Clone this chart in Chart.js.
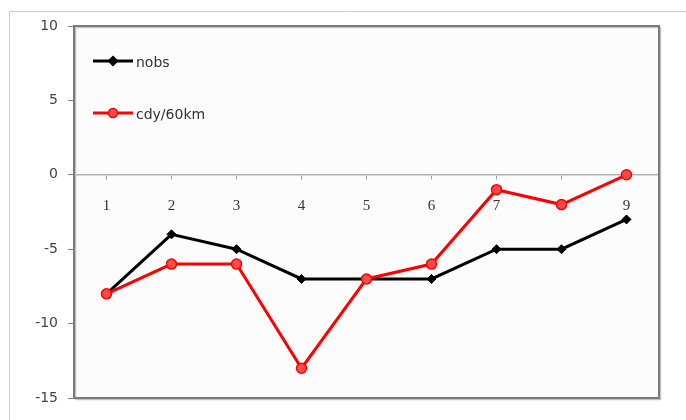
<!DOCTYPE html>
<html>
<head>
<meta charset="utf-8">
<script src="https://cdn.jsdelivr.net/npm/chart.js@4/dist/chart.umd.min.js"></script>
<style>
  html, body { margin: 0; padding: 0; background: #ffffff; }
  #wrap { position: relative; width: 686px; height: 420px; }
</style>
</head>
<body>
<div id="wrap"><canvas id="c" width="686" height="420"></canvas></div>
<script>
const categories = ['1', '2', '3', '4', '5', '6', '7', '8', '9'];
const nobs = [-8, -4, -5, -7, -7, -7, -5, -5, -3];
const cdy60km = [-8, -6, -6, -13, -7, -6, -1, -2, 0];
const seriesNames = ['nobs', 'cdy/60km'];
const yMin = -15;
const yMax = 10;
const yStep = 5;

const framePlugin = {
  id: 'frame',
  beforeDraw(chart) {
    const ctx = chart.ctx;
    ctx.save();
    ctx.fillStyle = '#ffffff';
    ctx.fillRect(0, 0, chart.width, chart.height);
    // outer border (cropped at right and bottom)
    ctx.strokeStyle = '#cfcfcf';
    ctx.lineWidth = 1;
    ctx.beginPath();
    ctx.moveTo(9.5, chart.height);
    ctx.lineTo(9.5, 11.5);
    ctx.lineTo(chart.width, 11.5);
    ctx.stroke();
    // plot area background
    const a = chart.chartArea;
    ctx.fillStyle = '#fcfcfc';
    ctx.fillRect(a.left, a.top, a.right - a.left, a.bottom - a.top);
    ctx.restore();
  },
  afterDraw(chart) {
    const ctx = chart.ctx;
    const a = chart.chartArea;
    ctx.save();
    // shadow
    ctx.strokeStyle = '#c4c4c4';
    ctx.lineWidth = 1.5;
    ctx.strokeRect(a.left + 1.5, a.top + 1.5, a.right - a.left, a.bottom - a.top);
    ctx.strokeStyle = '#7a7a7a';
    ctx.lineWidth = 2;
    ctx.strokeRect(a.left, a.top, a.right - a.left, a.bottom - a.top);
    // legend
    const items = chart.data.datasets;
    const ys = [a.top + 35, a.top + 87];
    items.forEach((ds, i) => {
      const y = ys[i];
      const x0 = a.left + 19, x1 = a.left + 59;
      ctx.strokeStyle = ds.borderColor;
      ctx.lineWidth = 3;
      ctx.beginPath();
      ctx.moveTo(x0, y);
      ctx.lineTo(x1, y);
      ctx.stroke();
      const cx = (x0 + x1) / 2;
      ctx.fillStyle = ds.pointBackgroundColor;
      ctx.strokeStyle = ds.pointBorderColor;
      ctx.lineWidth = 1.5;
      ctx.beginPath();
      if (ds.pointStyle === 'rectRot') {
        const r = 4.5;
        ctx.moveTo(cx, y - r);
        ctx.lineTo(cx + r, y);
        ctx.lineTo(cx, y + r);
        ctx.lineTo(cx - r, y);
        ctx.closePath();
      } else {
        ctx.arc(cx, y, 4.5, 0, Math.PI * 2);
      }
      ctx.fill();
      ctx.stroke();
      ctx.fillStyle = '#333333';
      ctx.font = '14px "DejaVu Sans"';
      ctx.textBaseline = 'middle';
      ctx.textAlign = 'left';
      ctx.fillText(ds.label, x1 + 3, y + 2);
    });
    ctx.restore();
  }
};

new Chart(document.getElementById('c'), {
  type: 'line',
  data: {
    labels: categories,
    datasets: [
      {
        label: seriesNames[0],
        data: nobs,
        borderColor: '#000000',
        backgroundColor: '#000000',
        pointBackgroundColor: '#000000',
        pointBorderColor: '#000000',
        pointStyle: 'rectRot',
        pointRadius: 4.5,
        pointBorderWidth: 1,
        borderWidth: 3,
        tension: 0,
        order: 1
      },
      {
        label: seriesNames[1],
        data: cdy60km,
        borderColor: '#ff0000',
        backgroundColor: '#ff0000',
        pointBackgroundColor: '#ff4a4a',
        pointBorderColor: '#ff0000',
        pointStyle: 'circle',
        pointRadius: 5,
        pointBorderWidth: 1.5,
        borderWidth: 3,
        tension: 0,
        order: 0
      }
    ]
  },
  options: {
    responsive: false,
    animation: false,
    events: [],
    layout: { padding: { left: 0, top: 26, right: 27, bottom: 22 } },
    plugins: {
      legend: { display: false },
      tooltip: { enabled: false },
      title: { display: false }
    },
    scales: {
      x: {
        type: 'category',
        position: { y: 0 },
        offset: true,
        grid: {
          display: true,
          offset: false,
          drawOnChartArea: false,
          drawTicks: true,
          tickLength: 4,
          color: '#a0a0a0',
          lineWidth: 1
        },
        border: { display: true, color: '#b4b4b4', width: 1.5 },
        ticks: {
          color: '#333333',
          font: { family: '"Liberation Serif"', size: 15 },
          padding: 18,
          maxRotation: 0,
          autoSkip: false
        }
      },
      y: {
        min: yMin,
        max: yMax,
        afterFit(scale) { scale.width = 74; },
        grid: {
          display: true,
          drawOnChartArea: false,
          drawTicks: true,
          tickLength: 6,
          color: '#808080',
          lineWidth: 1
        },
        border: { display: false },
        ticks: {
          stepSize: yStep,
          color: '#444444',
          font: { family: '"DejaVu Sans"', size: 14 },
          padding: 10
        }
      }
    }
  },
  plugins: [framePlugin]
});
</script>
</body>
</html>
